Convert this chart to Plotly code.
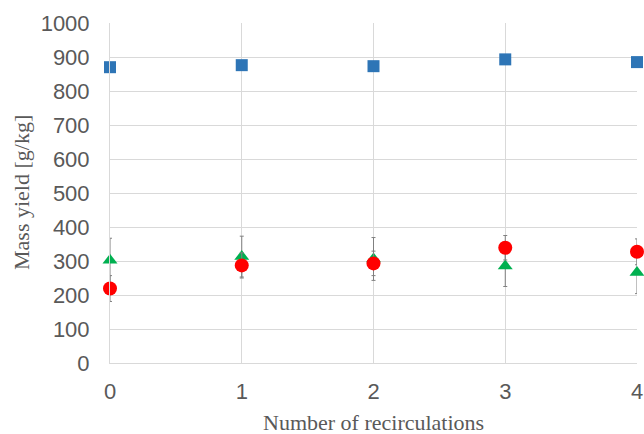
import plotly.graph_objects as go

recirculations = [0, 1, 2, 3, 4]
blue_yield = [870, 876, 873, 893, 885]
green_yield = [302, 313, 306, 285, 266]
green_err = [65, 60, 63, 60, 62]
red_yield = [219, 287, 293, 339, 327]
red_err = [38, 37, 36, 36, 38]

fig = go.Figure()
fig.add_trace(go.Scatter(
    x=recirculations, y=green_yield, mode="markers",
    marker=dict(symbol="triangle-up", color="#00B050", size=13),
    error_y=dict(type="data", array=green_err, color="#808080", thickness=1, width=2),
    cliponaxis=False, showlegend=False))
fig.add_trace(go.Scatter(
    x=recirculations, y=red_yield, mode="markers",
    marker=dict(symbol="circle", color="#FF0000", size=14),
    error_y=dict(type="data", array=red_err, color="#808080", thickness=1, width=2),
    cliponaxis=False, showlegend=False))
fig.add_trace(go.Scatter(
    x=recirculations, y=blue_yield, mode="markers",
    marker=dict(symbol="square", color="#2E75B6", size=12),
    cliponaxis=False, showlegend=False))

tickfont = dict(family="Liberation Sans, Arial", size=22, color="#595959")
titlefont = dict(family="Liberation Serif, Times New Roman", size=22, color="#595959")

fig.update_layout(
    width=644, height=434,
    margin=dict(l=110, r=7, t=23, b=71),
    paper_bgcolor="white", plot_bgcolor="white",
    xaxis=dict(
        range=[0, 4], tickvals=recirculations, showgrid=True, gridcolor="#d9d9d9",
        zeroline=False, showline=True, linecolor="#d9d9d9", automargin=False,
        tickfont=tickfont, ticks="", ticklabelstandoff=9,
    ),
    yaxis=dict(
        range=[0, 1000], dtick=100, showgrid=True, gridcolor="#d9d9d9",
        zeroline=False, showline=True, linecolor="#d9d9d9", automargin=False,
        tickfont=tickfont, ticks="", ticklabelstandoff=15,
    ),
    annotations=[
        dict(text="Number of recirculations", xref="paper", yref="paper",
             x=0.5, y=0, xanchor="center", yanchor="middle", yshift=-59,
             showarrow=False, font=titlefont),
        dict(text="Mass yield [g/kg]", xref="paper", yref="paper",
             x=0, y=0.5, xanchor="center", yanchor="middle", xshift=-89,
             textangle=-90, showarrow=False, font=titlefont),
    ],
)
fig.write_html("out.html",
               config={"displayModeBar": False},
               post_script="document.body.style.margin='0';document.body.style.overflow='hidden';")
